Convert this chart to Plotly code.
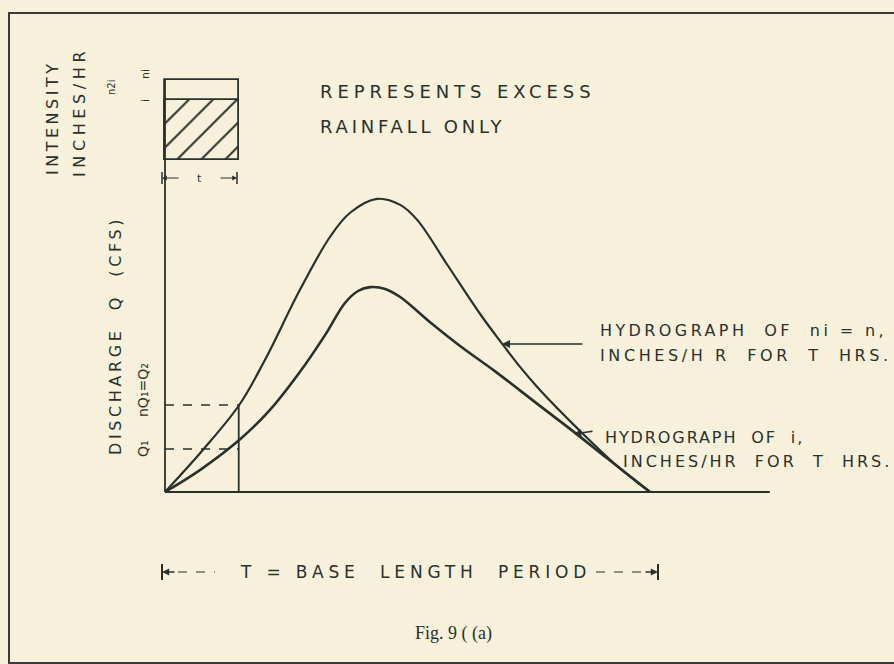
import plotly.graph_objects as go

W, H = 894, 664

# ---------------- data (hours, discharge units) ----------------
t_upper = [0.0, 0.78, 1.53, 2.06, 2.78, 3.40, 3.81, 4.37, 4.85, 5.20, 5.81, 6.49, 6.91, 7.32, 7.73, 8.56, 9.32, 10.0]
q_upper = [0.0, 1.40, 2.90, 4.40, 6.73, 8.50, 9.30, 9.77, 9.57, 9.07, 7.60, 5.95, 5.03, 4.17, 3.40, 2.03, 0.87, 0.0]

t_lower = [0.0, 0.72, 1.53, 2.16, 2.78, 3.30, 3.71, 3.98, 4.23, 4.54, 4.85, 5.46, 6.14, 6.80, 7.73, 8.41, 9.11, 10.0]
q_lower = [0.0, 0.73, 1.73, 2.73, 4.00, 5.23, 6.30, 6.70, 6.83, 6.77, 6.50, 5.67, 4.80, 4.03, 2.87, 2.03, 1.13, 0.0]

T_base = 10.0          # base length period
t_rain = 1.52          # rainfall duration t
rain_base = 11.07      # bottom of intensity box (drawing level)
i_height = 2.00        # intensity i
ni_height = 2.66       # intensity n*i
q_marks = [1.43, 2.90] # Q1 and nQ1 = Q2
x_axis_end = 12.47
y_axis_end = rain_base + ni_height

# ---------------- layout mapping ----------------
X0, XS = 165, 48.5
Y0, YS = 492, 30
xr = [-X0 / XS, (W - X0) / XS]
yr = [-(H - Y0) / YS, Y0 / YS]

INK = "#29312c"
BG = "#f7f0da"
FONT = "DejaVu Sans"


def px(x):
    return x / W


def py(y):
    return 1 - y / H


def spaced(s, ls):
    return f'<span style="letter-spacing:{ls}px">{s}</span>'


fig = go.Figure()

# intensity box (outer n*i level) and hatched i level
fig.add_trace(go.Bar(x=[t_rain / 2], y=[ni_height], base=[rain_base], width=[t_rain],
                     marker=dict(color="rgba(0,0,0,0)", line=dict(color=INK, width=1.8)),
                     showlegend=False, hoverinfo="skip"))
fig.add_trace(go.Bar(x=[t_rain / 2], y=[i_height], base=[rain_base], width=[t_rain],
                     marker=dict(color=BG, line=dict(color=INK, width=1.8),
                                 pattern=dict(shape="/", fgcolor=INK, bgcolor=BG,
                                              size=17, solidity=0.12, fillmode="replace")),
                     showlegend=False, hoverinfo="skip"))

# axes drawn as lines
fig.add_trace(go.Scatter(x=[0, x_axis_end], y=[0, 0], mode="lines",
                         line=dict(color=INK, width=2.2), showlegend=False, hoverinfo="skip"))
fig.add_trace(go.Scatter(x=[0, 0], y=[0, y_axis_end], mode="lines",
                         line=dict(color=INK, width=1.8), showlegend=False, hoverinfo="skip"))

# hydrographs
fig.add_trace(go.Scatter(x=t_upper, y=q_upper, mode="lines",
                         line=dict(color=INK, width=2.2, shape="spline", smoothing=1.0),
                         showlegend=False, hoverinfo="skip"))
fig.add_trace(go.Scatter(x=t_lower, y=q_lower, mode="lines",
                         line=dict(color=INK, width=2.6, shape="spline", smoothing=1.0),
                         showlegend=False, hoverinfo="skip"))

# vertical line at t and dashed Q levels
fig.add_trace(go.Scatter(x=[t_rain, t_rain], y=[0, q_marks[1]], mode="lines",
                         line=dict(color=INK, width=1.8), showlegend=False, hoverinfo="skip"))
for q in q_marks:
    fig.add_trace(go.Scatter(x=[0, t_rain], y=[q, q], mode="lines",
                             line=dict(color=INK, width=1.5, dash="dash"),
                             showlegend=False, hoverinfo="skip"))

shapes = []
# outer frame
shapes.append(dict(type="rect", xref="paper", yref="paper", x0=px(9), y0=py(663), x1=px(905), y1=py(13),
                   line=dict(color="#3a3a36", width=2), fillcolor="rgba(0,0,0,0)"))
# base length period bar ticks and dashes
for xx in (162, 658):
    shapes.append(dict(type="line", xref="paper", yref="paper", x0=px(xx), x1=px(xx), y0=py(564), y1=py(580),
                       line=dict(color=INK, width=2)))
shapes.append(dict(type="line", xref="paper", yref="paper", x0=px(178), x1=px(215), y0=py(572), y1=py(572),
                   line=dict(color=INK, width=1.2, dash="dash")))
shapes.append(dict(type="line", xref="paper", yref="paper", x0=px(596), x1=px(642), y0=py(572), y1=py(572),
                   line=dict(color=INK, width=1.2, dash="dash")))
# t marker ticks below box
for xx in (162, 237):
    shapes.append(dict(type="line", xref="paper", yref="paper", x0=px(xx), x1=px(xx), y0=py(172), y1=py(184),
                       line=dict(color=INK, width=1.5)))

ann = []


def text(x, y, s, size=16, ang=0, family=FONT, xanchor="center", ls=0):
    ann.append(dict(x=px(x), y=py(y), xref="paper", yref="paper", text=spaced(s, ls) if ls else s,
                    showarrow=False, textangle=ang, xanchor=xanchor, yanchor="middle",
                    font=dict(family=family, size=size, color=INK)))


def arrow(xh, yh, axp, ayp, size=1.0, width=1.6):
    ann.append(dict(x=px(xh), y=py(yh), xref="paper", yref="paper", text="", showarrow=True,
                    ax=axp - xh, ay=ayp - yh, arrowhead=2, arrowsize=size, arrowwidth=width,
                    arrowcolor=INK))


text(52, 118, "INTENSITY", size=16, ang=-90, ls=3.5)
text(80, 112, "INCHES/HR", size=16, ang=-90, ls=4.6)
text(145, 101, "i", size=11, ang=-90)
text(145, 74, "ni", size=11, ang=-90)
text(112, 88, "n2i", size=10, ang=-90)
text(199, 178, "t", size=11)
arrow(162, 178, 180, 178, size=0.8, width=1.2)
arrow(237, 178, 219, 178, size=0.8, width=1.2)

text(318, 92, "REPRESENTS EXCESS", size=18, xanchor="left", ls=4.9)
text(318, 126, "RAINFALL ONLY", size=18, xanchor="left", ls=3.8)

text(115, 336, "DISCHARGE  Q  (CFS)", size=16, ang=-90, ls=3.6)
text(143, 449, "Q₁", size=14, ang=-90)
text(143, 390, "nQ₁=Q₂", size=14, ang=-90)

text(598, 330, "HYDROGRAPH  OF  ni = n,", size=16, xanchor="left", ls=3.4)
text(598, 355, "INCHES/H R  FOR  T  HRS.", size=16, xanchor="left", ls=3.6)
arrow(502, 344, 584, 344, size=1.0, width=1.6)

text(603, 437, "HYDROGRAPH  OF  i,", size=16, xanchor="left", ls=1.9)
text(621, 461, "INCHES/HR  FOR  T  HRS.", size=16, xanchor="left", ls=3.0)
arrow(574, 434, 594, 431, size=0.9, width=1.6)

text(415, 572, "T = BASE  LENGTH  PERIOD", size=17, ls=4.8)
arrow(162, 572, 176, 572, size=0.9, width=1.6)
arrow(658, 572, 644, 572, size=0.9, width=1.6)

text(453, 633, "Fig. 9 ( (a)", size=18, family="Liberation Serif")

fig.update_layout(
    width=W, height=H, margin=dict(l=0, r=0, t=0, b=0),
    paper_bgcolor=BG, plot_bgcolor=BG, barmode="overlay", bargap=0,
    xaxis=dict(range=xr, visible=False, fixedrange=True),
    yaxis=dict(range=yr, visible=False, fixedrange=True),
    shapes=shapes, annotations=ann, showlegend=False,
)

fig.write_html("out.html", config={"displayModeBar": False},
               post_script="document.body.style.margin='0';document.body.style.background='#f7f0da';")
